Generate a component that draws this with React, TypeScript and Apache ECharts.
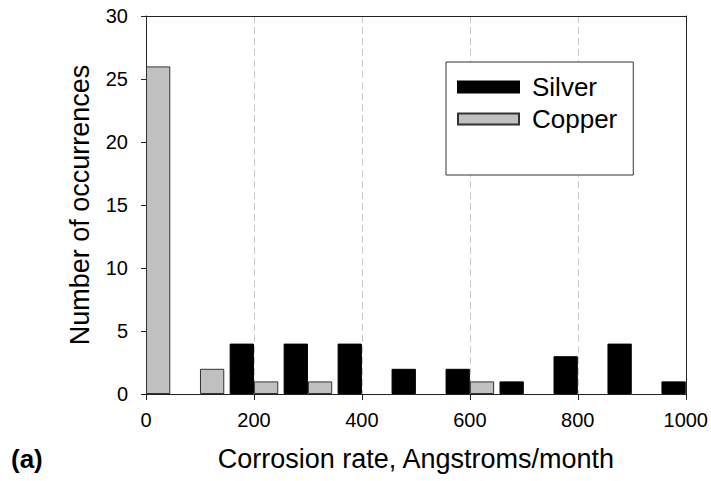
import React, { useEffect, useRef } from "react";
import * as echarts from "echarts";

const binCenters = [0, 100, 200, 300, 400, 500, 600, 700, 800, 900, 1000];
const silverCounts = [0, 0, 4, 4, 4, 2, 2, 1, 3, 4, 1];
const copperCounts = [26, 2, 1, 1, 0, 0, 1, 0, 0, 0, 0];
const xTicks = [0, 200, 400, 600, 800, 1000];
const yTicks = [0, 5, 10, 15, 20, 25, 30];

const FONT = "'Liberation Sans', Arial, sans-serif";

function pairs(values: number[]) {
  const out: [number, number][] = [];
  values.forEach((v, i) => {
    if (v > 0) out.push([binCenters[i], v]);
  });
  return out;
}

const X_MIN = xTicks[0];
const X_MAX = xTicks[xTicks.length - 1];
const Y_MIN = yTicks[0];
const Y_MAX = yTicks[yTicks.length - 1];

export default function App() {
  const ref = useRef<HTMLDivElement>(null);
  useEffect(() => {
    if (!ref.current) return;
    const chart = echarts.init(ref.current, null, { renderer: "svg" });
    const borderAxis = {
      axisLine: { show: true, onZero: false, lineStyle: { color: "#222", width: 1 } },
      axisTick: { show: false },
      axisLabel: { show: false },
      splitLine: { show: false },
    };
    chart.setOption({
      animation: false,
      backgroundColor: "#ffffff",
      textStyle: { fontFamily: FONT },
      grid: {
        left: 146,
        right: 25,
        top: 16,
        bottom: 87,
      },
      legend: {
        orient: "vertical",
        left: 446,
        top: 62,
        backgroundColor: "#fff",
        borderColor: "#333",
        borderWidth: 1,
        padding: [10, 16, 41, 11],
        itemWidth: 61,
        itemHeight: 11,
        itemGap: 2,
        icon: "rect",
        textStyle: {
          fontFamily: FONT,
          fontSize: 26,
          color: "#000",
          lineHeight: 30,
          padding: [0, 0, 0, 8],
        },
        data: ["Silver", "Copper"],
      },
      xAxis: [
        {
          type: "value",
          min: X_MIN,
          max: X_MAX,
          interval: 200,
          name: "Corrosion rate, Angstroms/month",
          nameLocation: "middle",
          nameGap: 51,
          nameTextStyle: { fontFamily: FONT, fontSize: 27, color: "#000" },
          axisLine: { show: true, onZero: false, lineStyle: { color: "#222", width: 1 } },
          axisTick: { show: true, length: 6, lineStyle: { color: "#222" } },
          axisLabel: {
            fontFamily: FONT,
            fontSize: 20,
            color: "#000",
            margin: 16,
            formatter: (v: number) => String(v),
          },
          splitLine: {
            show: true,
            lineStyle: { color: "#c8c8c8", type: [7, 4], width: 1 },
          },
        },
        {
          type: "value",
          position: "top",
          min: X_MIN,
          max: X_MAX,
          interval: 200,
          ...borderAxis,
        },
      ],
      yAxis: [
        {
          type: "value",
          min: Y_MIN,
          max: Y_MAX,
          interval: 5,
          name: "Number of occurrences",
          nameLocation: "middle",
          nameGap: 53,
          nameTextStyle: { fontFamily: FONT, fontSize: 27, color: "#000" },
          axisLine: { show: true, onZero: false, lineStyle: { color: "#222", width: 1 } },
          axisTick: { show: true, length: 5, lineStyle: { color: "#222" } },
          axisLabel: {
            fontFamily: FONT,
            fontSize: 20,
            color: "#000",
            margin: 18,
          },
          splitLine: { show: false },
        },
        {
          type: "value",
          position: "right",
          min: Y_MIN,
          max: Y_MAX,
          interval: 5,
          ...borderAxis,
        },
      ],
      series: [
        {
          name: "Silver",
          type: "bar",
          barWidth: 24.3,
          barGap: "0%",
          itemStyle: { color: "#000", borderColor: "#000", borderWidth: 1 },
          data: pairs(silverCounts),
        },
        {
          name: "Copper",
          type: "bar",
          barWidth: 24.3,
          barGap: "0%",
          itemStyle: { color: "#c0c0c0", borderColor: "#333", borderWidth: 1 },
          data: pairs(copperCounts),
        },
      ],
      graphic: [
        {
          type: "text",
          left: 11,
          top: 446,
          style: {
            text: "(a)",
            fontFamily: FONT,
            fontSize: 26,
            fontWeight: "bold",
            fill: "#000",
          },
        },
      ],
    });
    return () => chart.dispose();
  }, []);
  return (
    <div
      ref={ref}
      style={{ position: "fixed", left: 0, top: 0, width: 711, height: 481 }}
    />
  );
}
